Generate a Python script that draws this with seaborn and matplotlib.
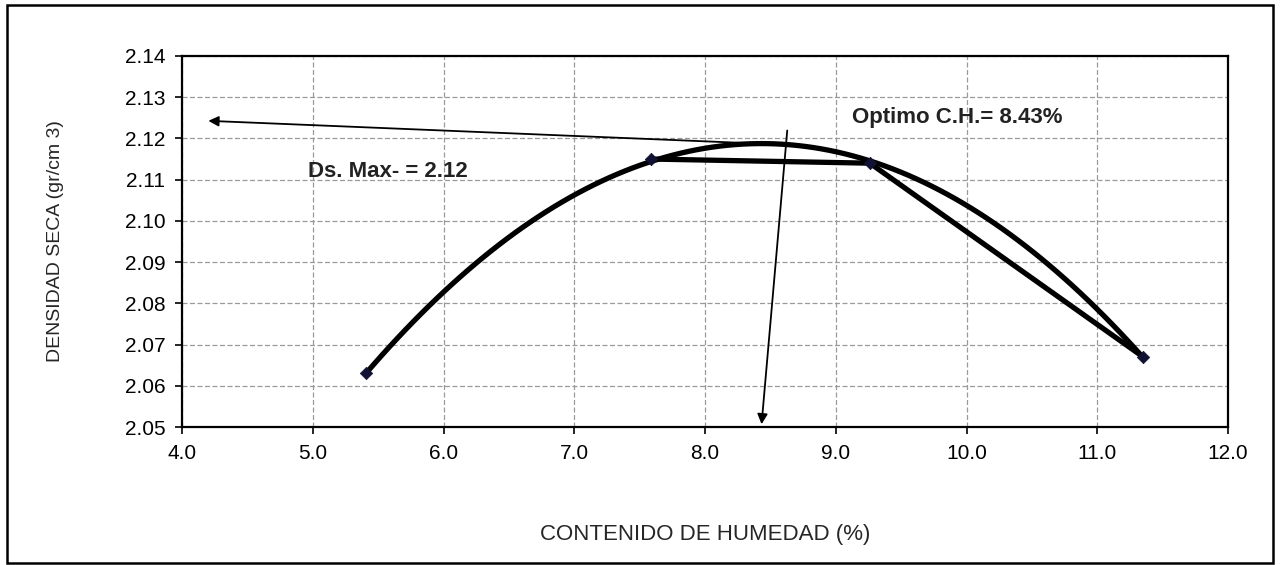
import numpy as np
import matplotlib
matplotlib.use('Agg')
import matplotlib.pyplot as plt
import matplotlib.patches as patches
import seaborn as sns

# Proctor test points
moisture = [5.41, 7.59, 9.26, 11.35]
density = [2.063, 2.115, 2.114, 2.067]

opt_ch = 8.43
ds_max = 2.12

# hand-drawn arrows in the original: (start, end)
arrow_max = ((8.61, 2.1185), (4.18, 2.1243))
arrow_opt = ((8.63, 2.1226), (opt_ch, 2.05))

x_ticks = [4.0, 5.0, 6.0, 7.0, 8.0, 9.0, 10.0, 11.0, 12.0]
y_ticks = [2.05, 2.06, 2.07, 2.08, 2.09, 2.10, 2.11, 2.12, 2.13, 2.14]

sns.set_style('white')
plt.rcParams['font.family'] = ['Liberation Sans', 'DejaVu Sans']

fig = plt.figure(figsize=(12.82, 5.65), dpi=100)
ax = fig.add_axes([0.142, 0.2442, 0.816, 0.6567])

# polynomial trend curve (2nd order) like the spreadsheet trendline
sns.regplot(x=moisture, y=density, order=2, ci=None, scatter=False, ax=ax,
            line_kws=dict(color='black', lw=3.8, solid_capstyle='round'))
# straight segments between the measured points
sns.lineplot(x=moisture[1:], y=density[1:], sort=False, ax=ax, color='black', lw=3.8)
sns.scatterplot(x=moisture, y=density, marker='D', s=40, color='#111133', edgecolor='#111133', ax=ax, zorder=5)

ax.annotate('', xy=arrow_max[1], xytext=arrow_max[0],
            arrowprops=dict(arrowstyle='-|>', color='black', lw=1.3, mutation_scale=15))
ax.annotate('', xy=arrow_opt[1], xytext=arrow_opt[0],
            arrowprops=dict(arrowstyle='-|>', color='black', lw=1.3, mutation_scale=15))

ax.text(9.12, 2.125, f'Optimo C.H.= {opt_ch:.2f}%', fontsize=16, fontweight='bold', va='center', ha='left',
        color='#222222')
ax.text(4.96, 2.1119, f'Ds. Max- = {ds_max:.2f}', fontsize=16, fontweight='bold', va='center', ha='left',
        color='#222222')

ax.set_xlim(4.0, 12.0)
ax.set_ylim(2.05, 2.14)
ax.set_xticks(x_ticks)
ax.set_yticks(y_ticks)
ax.set_xticklabels([f'{v:.1f}' for v in x_ticks])
ax.set_yticklabels([f'{v:.2f}' for v in y_ticks])
ax.tick_params(axis='both', direction='out', length=5, width=1.2, labelsize=15, pad=7,
               bottom=True, left=True, colors='black')

ax.grid(True, color='#9a9a9a', lw=0.9, ls=(0, (4, 2)))
for s in ax.spines.values():
    s.set_color('black')
    s.set_linewidth(1.6)

ax.set_xlabel('CONTENIDO DE HUMEDAD (%)', fontsize=16, labelpad=44)
ax.set_ylabel('DENSIDAD SECA (gr/cm 3)', fontsize=14, labelpad=44)

# outer frame of the chart area
fig.patches.append(patches.Rectangle((0.0055, 0.0035), 0.9875, 0.9876, transform=fig.transFigure,
                                     fill=False, edgecolor='black', lw=1.8))

fig.savefig('out.png', dpi=100)
